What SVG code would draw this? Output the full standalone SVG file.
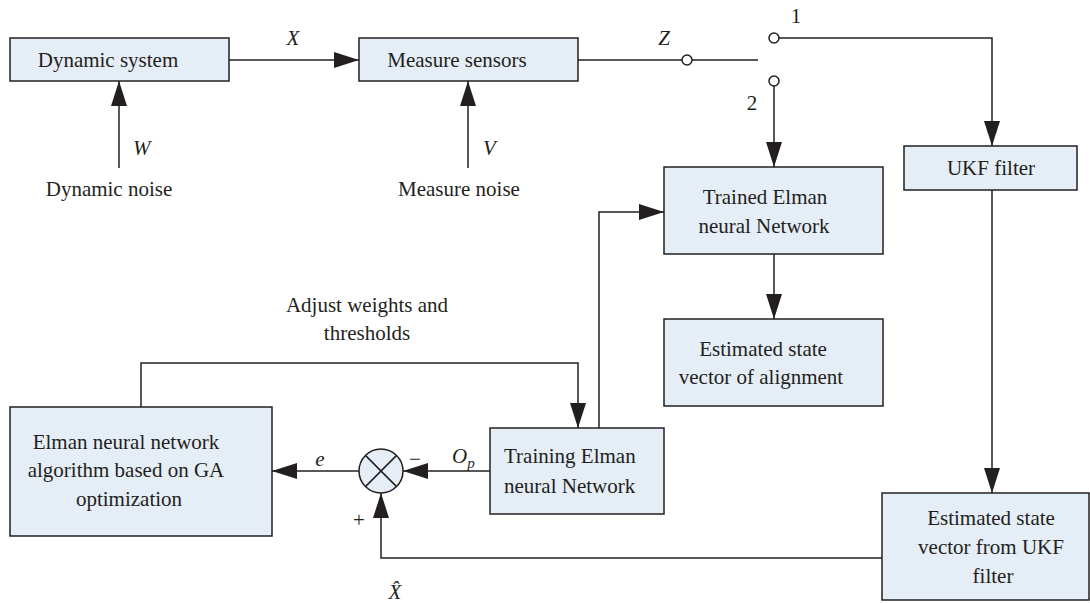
<svg xmlns="http://www.w3.org/2000/svg" width="1090" height="603" viewBox="0 0 1090 603">
<style>
.box{fill:#e5edf6;stroke:#231f20;stroke-width:1.5}
.ln{fill:none;stroke:#231f20;stroke-width:1.5}
.t{font-family:"Liberation Serif","Times New Roman",serif;font-size:21px;fill:#231f20}
.m{text-anchor:middle}
.i{font-style:italic}
.sw{fill:#fff;stroke:#231f20;stroke-width:1.5}
</style>
<defs>
<marker id="ah" markerUnits="userSpaceOnUse" markerWidth="25" markerHeight="16" refX="25" refY="8" orient="auto">
<path d="M0,0 L25,8 L0,16 Z" fill="#231f20"/>
</marker>
</defs>
<rect width="1090" height="603" fill="#fff"/>

<g id="connectors">
<line class="ln" x1="229" y1="60" x2="359" y2="60" marker-end="url(#ah)"/>
<line class="ln" x1="119" y1="168" x2="119" y2="81" marker-end="url(#ah)"/>
<line class="ln" x1="468" y1="168" x2="468" y2="81" marker-end="url(#ah)"/>
<line class="ln" x1="578" y1="60" x2="682" y2="60"/>
<line class="ln" x1="692" y1="60" x2="758" y2="60"/>
<circle class="sw" cx="687" cy="60" r="5"/>
<polyline class="ln" points="779,38 992,38 992,146" marker-end="url(#ah)"/>
<circle class="sw" cx="774" cy="38" r="5"/>
<line class="ln" x1="774" y1="86" x2="774" y2="167" marker-end="url(#ah)"/>
<circle class="sw" cx="774" cy="81" r="5"/>
<line class="ln" x1="774" y1="254" x2="774" y2="319" marker-end="url(#ah)"/>
<line class="ln" x1="992" y1="190" x2="992" y2="493" marker-end="url(#ah)"/>
<polyline class="ln" points="599,428 599,212 664,212" marker-end="url(#ah)"/>
<polyline class="ln" points="141,407 141,363 578,363 578,428" marker-end="url(#ah)"/>
<line class="ln" x1="359" y1="471" x2="272" y2="471" marker-end="url(#ah)"/>
<line class="ln" x1="490" y1="471" x2="403" y2="471" marker-end="url(#ah)"/>
<polyline class="ln" points="882,558 381,558 381,493" marker-end="url(#ah)"/>
</g>

<g id="sum">
<circle cx="381" cy="471" r="22" fill="#e5edf6" stroke="#231f20" stroke-width="1.5"/>
<line class="ln" x1="365.4" y1="455.4" x2="396.6" y2="486.6"/>
<line class="ln" x1="396.6" y1="455.4" x2="365.4" y2="486.6"/>
</g>

<g id="dynamic-system">
<rect class="box" x="10" y="38" width="219" height="43"/>
<text class="t m" x="108" y="67">Dynamic system</text>
</g>
<g id="measure-sensors">
<rect class="box" x="359" y="38" width="219" height="43"/>
<text class="t m" x="457" y="67">Measure sensors</text>
</g>
<g id="ukf-filter">
<rect class="box" x="904" y="146" width="173" height="44"/>
<text class="t m" x="991" y="175">UKF filter</text>
</g>
<g id="trained-elman">
<rect class="box" x="664" y="167" width="219" height="87"/>
<text class="t m" x="765" y="204">Trained Elman</text>
<text class="t m" x="764" y="233">neural Network</text>
</g>
<g id="est-alignment">
<rect class="box" x="664" y="319" width="219" height="87"/>
<text class="t m" x="763" y="356">Estimated state</text>
<text class="t m" x="761" y="384">vector of alignment</text>
</g>
<g id="est-ukf">
<rect class="box" x="882" y="493" width="207" height="107"/>
<text class="t m" x="991" y="525">Estimated state</text>
<text class="t m" x="991" y="554">vector from UKF</text>
<text class="t m" x="993" y="583">filter</text>
</g>
<g id="training-elman">
<rect class="box" x="490" y="428" width="174" height="86"/>
<text class="t" x="504" y="463">Training Elman</text>
<text class="t" x="504" y="493">neural Network</text>
</g>
<g id="elman-ga">
<rect class="box" x="10" y="407" width="262" height="129"/>
<text class="t m" x="126" y="449">Elman neural network</text>
<text class="t m" x="126" y="477">algorithm based on GA</text>
<text class="t m" x="129" y="506">optimization</text>
</g>

<g id="labels">
<text class="t i m" x="293" y="45">X</text>
<text class="t i m" x="664" y="45">Z</text>
<text class="t i" x="133" y="155">W</text>
<text class="t i" x="483" y="155">V</text>
<text class="t m" x="109" y="196">Dynamic noise</text>
<text class="t m" x="459" y="196">Measure noise</text>
<text class="t m" x="796" y="23">1</text>
<text class="t m" x="752" y="110">2</text>
<text class="t m" x="367" y="312">Adjust weights and</text>
<text class="t m" x="367" y="340">thresholds</text>
<text class="t i m" x="320" y="466">e</text>
<text class="t i" x="452" y="463">O<tspan font-size="15" dy="5">p</tspan></text>
<text class="t m" x="415" y="466">−</text>
<text class="t m" x="359" y="527">+</text>
<text class="t i m" x="395" y="599">X̂</text>
</g>
</svg>
